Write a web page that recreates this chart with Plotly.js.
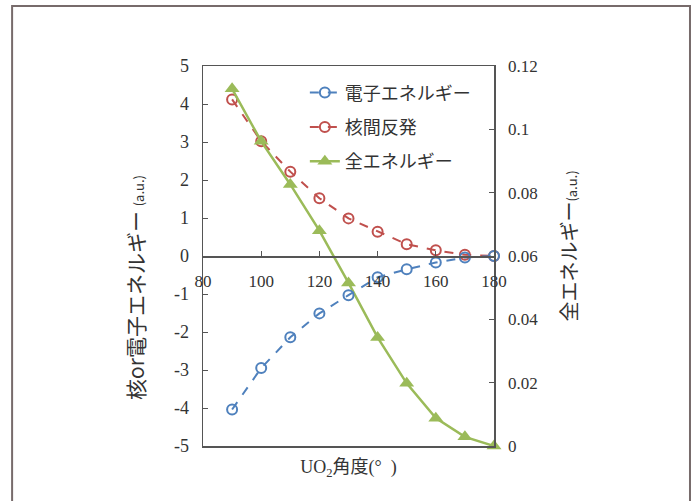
<!DOCTYPE html>
<html>
<head>
<meta charset="utf-8">
<script src="https://cdn.plot.ly/plotly-3.0.1.min.js"></script>
<style>html,body{margin:0;padding:0;background:#fff;}#chart{width:699px;height:501px;}</style>
</head>
<body>
<div id="chart"></div>
<script>
// Data
const angles = [90, 100, 110, 120, 130, 140, 150, 160, 170, 180];
const electronEnergy = [-4.04, -2.95, -2.14, -1.51, -1.03, -0.56, -0.35, -0.17, -0.04, 0];
const nuclearRepulsion = [4.12, 3.02, 2.22, 1.52, 0.99, 0.64, 0.31, 0.15, 0.03, 0];
const totalEnergy = [0.1128, 0.0962, 0.0826, 0.068, 0.0515, 0.0343, 0.0198, 0.0088, 0.0029, 0];
const seriesNames = ['電子エネルギー', '核間反発', '全エネルギー'];
const leftTickVals = [-5, -4, -3, -2, -1, 0, 1, 2, 3, 4, 5];
const leftTickText = ['-5', '-4', '-3', '-2', '-1', '0', '1', '2', '3', '4', '5'];

const serif = 'Liberation Serif, Noto Sans CJK JP, serif';
const cjk = 'Noto Sans CJK JP, sans-serif';
const axisColor = '#555555';
const textColor = '#333333';

const traces = [
  {
    x: angles, y: electronEnergy, name: seriesNames[0],
    xaxis: 'x2', yaxis: 'y', legendgroup: 'a', cliponaxis: false,
    mode: 'lines+markers',
    line: {color: '#4F81BD', width: 2, dash: 'dash'},
    marker: {symbol: 'circle-open', size: 10, color: '#4F81BD', line: {width: 2}}
  },
  {
    x: angles, y: nuclearRepulsion, name: seriesNames[1],
    xaxis: 'x', yaxis: 'y', legendgroup: 'b', cliponaxis: false,
    mode: 'lines+markers',
    line: {color: '#C0504D', width: 2, dash: 'dash'},
    marker: {symbol: 'circle-open', size: 10, color: '#C0504D', line: {width: 2}}
  },
  {
    x: angles, y: totalEnergy, name: seriesNames[2],
    xaxis: 'x', yaxis: 'y2', legendgroup: 'c', cliponaxis: false,
    mode: 'lines+markers',
    line: {color: '#9BBB59', width: 2.5},
    marker: {symbol: 'triangle-up', size: 13, color: '#9BBB59'}
  }
];

const layout = {
  width: 699, height: 501,
  margin: {l: 203, r: 205, t: 66, b: 55},
  paper_bgcolor: '#ffffff', plot_bgcolor: 'rgba(0,0,0,0)',
  font: {family: serif, size: 17, color: textColor},
  showlegend: true,
  legend: {
    x: 0.35, y: 0.978, xanchor: 'left', yanchor: 'top',
    bgcolor: 'rgba(0,0,0,0)', tracegroupgap: 8,
    font: {family: cjk, size: 18, color: textColor}
  },
  xaxis: {
    range: [80, 180], anchor: 'y',
    showticklabels: false, ticks: '', showgrid: false, zeroline: false,
    showline: true, mirror: true, linecolor: axisColor, linewidth: 1.5,
    title: {text: 'UO<sub>2</sub>角度(°  )', font: {family: serif, size: 18, color: textColor}, standoff: 14}
  },
  xaxis2: {
    range: [80, 180], overlaying: 'x', anchor: 'free', position: 0.5,
    dtick: 20, tick0: 80, ticks: 'inside', ticklen: 5, tickcolor: axisColor,
    showgrid: false, zeroline: false, showline: true, linecolor: axisColor, linewidth: 1.5,
    tickfont: {family: serif, size: 17, color: textColor}, ticklabelstandoff: 9
  },
  yaxis: {
    range: [-5, 5], tickvals: leftTickVals, ticktext: leftTickText,
    ticks: 'inside', ticklen: 5, tickcolor: axisColor,
    showgrid: false, zeroline: false, showline: true, linecolor: axisColor, linewidth: 1.5,
    tickfont: {family: serif, size: 18, color: textColor}, ticklabelstandoff: 9,
    title: {text: '核or電子エネルギー <span style="font-size:13px">(a.u.)</span>\u3000\u3000\u3000\u200b', font: {family: cjk, size: 21, color: textColor}, standoff: 23}
  },
  yaxis2: {
    range: [0, 0.12], dtick: 0.02, overlaying: 'y', side: 'right', anchor: 'x',
    ticks: 'inside', ticklen: 5, tickcolor: axisColor,
    showgrid: false, zeroline: false, showline: true, linecolor: axisColor, linewidth: 1.5,
    tickfont: {family: serif, size: 17, color: textColor}, ticklabelstandoff: 9,
    title: {text: '\u200b\u3000全エネルギー<span style="font-size:13px">(a.u.)</span>', font: {family: cjk, size: 20, color: textColor}, standoff: 26}
  },
  shapes: [
    {type: 'rect', xref: 'paper', yref: 'paper', x0: -0.656, x1: 1.6735, y0: -0.2, y1: 1.158,
     line: {color: '#776b6b', width: 2}, fillcolor: 'rgba(0,0,0,0)', layer: 'below'}
  ]
};

Plotly.newPlot('chart', traces, layout, {displayModeBar: false, staticPlot: true});
</script>
</body>
</html>
